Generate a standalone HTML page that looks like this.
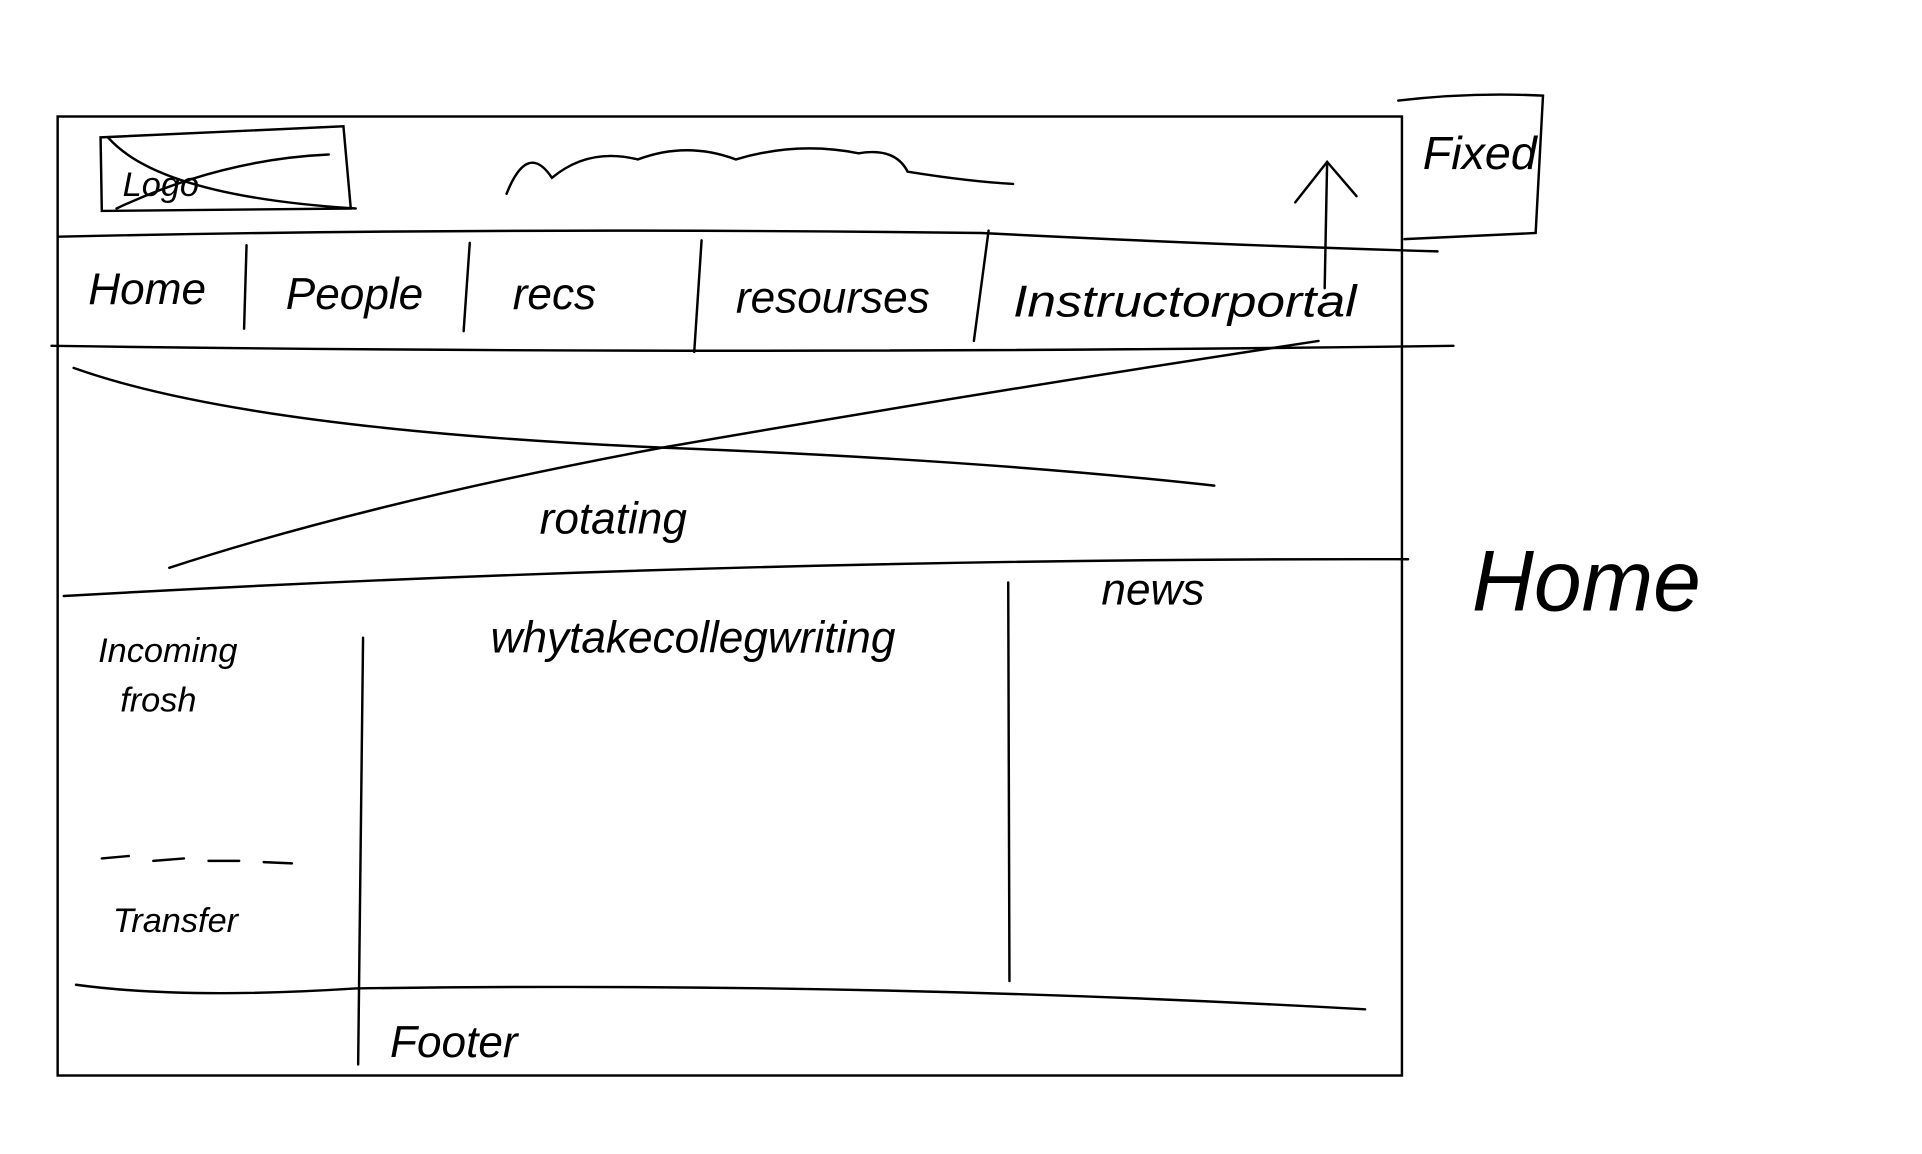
<!DOCTYPE html>
<html><head><meta charset="utf-8"><style>
html,body{margin:0;padding:0;background:#fff;width:1922px;height:1154px;overflow:hidden}
svg{display:block}
text{font-family:"Liberation Sans",sans-serif;fill:#000;font-style:italic}
</style></head><body>
<svg width="1922" height="1154" viewBox="0 0 1567 941" preserveAspectRatio="none" xmlns="http://www.w3.org/2000/svg">
<g fill="none" stroke="#000" stroke-width="2" stroke-linecap="round">
<rect x="47" y="95" width="1096" height="782"/>
<path d="M82 112 L280 103 L286 170 L83 172 Z"/>
<path d="M88 112 Q130 160 290 170"/>
<path d="M95 170 Q180 130 268 126"/>
<path d="M413 158 Q430 115 450 145 Q480 120 520 130 Q560 115 600 130 Q650 115 700 125 Q730 120 740 140 Q790 148 826 150"/>
<path d="M1140 82 Q1200 75 1258 78 L1252 190 L1145 195"/>
<path d="M1056 165 L1082 132 L1106 160"/>
<path d="M1082 132 L1080 235"/>
<path d="M47 193 Q400 185 800 190 Q1000 200 1172 205"/>
<path d="M42 282 Q600 290 1185 282"/>
<path d="M201 200 L199 268"/><path d="M383 198 L378 270"/><path d="M572 196 L566 287"/><path d="M806 188 L794 278"/>
<path d="M60 300 Q200 350 540 365 Q800 375 990 396"/>
<path d="M138 463 Q300 410 540 365 Q800 320 1075 278"/>
<path d="M52 486 Q600 455 1148 456"/>
<path d="M296 520 L292 868"/>
<path d="M822 475 L823 800"/>
<path d="M83 700 L105 698 M125 702 L150 700 M170 702 L195 702 M215 703 L238 704"/>
<path d="M62 803 Q150 815 290 806 Q700 800 1113 823"/>
</g>
<g font-size="36">
<text x="72" y="248">Home</text>
<text x="233" y="252">People</text>
<text x="418" y="252">recs</text>
<text x="600" y="255">resourses</text>
<text x="826" y="258" textLength="280" lengthAdjust="spacingAndGlyphs">Instructorportal</text>
<text x="440" y="435">rotating</text>
<text x="400" y="532" textLength="330" lengthAdjust="spacingAndGlyphs">whytakecollegwriting</text>
<text x="898" y="493">news</text>
<text x="1160" y="138" font-size="38">Fixed</text>
<text x="1200" y="498" font-size="70">Home</text>
<text x="318" y="862">Footer</text>
</g>
<g font-size="28">
<text x="80" y="540">Incoming</text>
<text x="98" y="580">frosh</text>
<text x="92" y="760">Transfer</text>
<text x="100" y="160">Logo</text>
</g>
</svg>
</body></html>
